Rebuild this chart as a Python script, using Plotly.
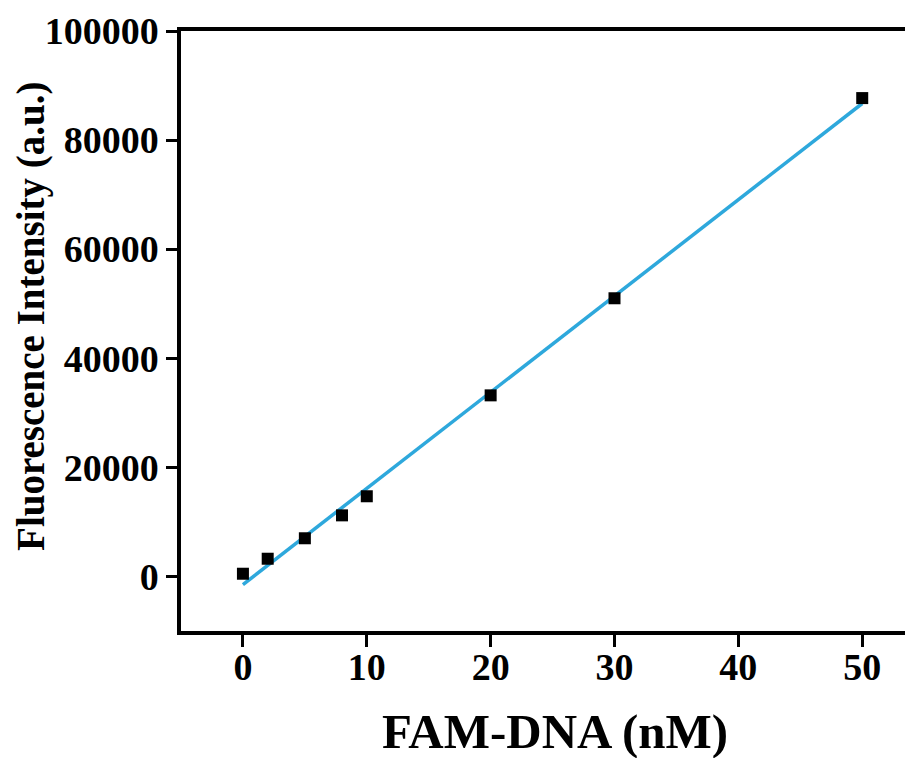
import numpy as np
import plotly.graph_objects as go

conc_nM = [0, 2, 5, 8, 10, 20, 30, 50]
intensity = [500, 3250, 7000, 11200, 14700, 33200, 51000, 87700]
x_ticks = [0, 10, 20, 30, 40, 50]
y_ticks = [0, 20000, 40000, 60000, 80000, 100000]
y_tick_text = [str(v) for v in y_ticks]
x_title = "FAM-DNA (nM)"
y_title = "Fluorescence Intensity (a.u.)"

slope, intercept = np.polyfit(conc_nM, intensity, 1)
fit_x = [min(conc_nM), max(conc_nM)]
fit_y = [slope * v + intercept for v in fit_x]

FONT = "Liberation Serif"

fig = go.Figure()
fig.add_trace(go.Scatter(x=fit_x, y=fit_y, mode="lines",
                         line=dict(color="#2ea8dc", width=3.5), showlegend=False))
fig.add_trace(go.Scatter(x=conc_nM, y=intensity, mode="markers",
                         marker=dict(symbol="square", size=12, color="black"),
                         showlegend=False))

fig.update_layout(
    width=905, height=750,
    margin=dict(l=173, r=0, t=23, b=127, autoexpand=False),
    plot_bgcolor="white", paper_bgcolor="white",
    font=dict(family=FONT, color="black"),
)
fig.update_xaxes(
    range=[-5, 54.1], tickvals=x_ticks, showgrid=False, zeroline=False,
    showline=True, linecolor="black", linewidth=3.5, mirror=True,
    ticks="outside", ticklen=12, tickwidth=3, tickcolor="black",
    tickfont=dict(family=FONT, size=38, weight="bold", color="black"),
    ticklabelstandoff=-12,
    automargin=False,
)
fig.update_yaxes(
    range=[-10000, 100000], tickvals=y_ticks, ticktext=y_tick_text,
    showgrid=False, zeroline=False,
    showline=True, linecolor="black", linewidth=3.5, mirror=False,
    ticks="outside", ticklen=11, tickwidth=3, tickcolor="black",
    tickfont=dict(family=FONT, size=38, weight="bold", color="black"),
    automargin=False,
)
fig.add_annotation(text=x_title, xref="paper", yref="paper", x=0.511, y=-0.167,
                   xanchor="center", yanchor="middle", showarrow=False,
                   font=dict(family=FONT, size=49, weight="bold", color="black"))
fig.add_annotation(text=y_title, xref="paper", yref="paper", x=-0.205, y=0.525,
                   xanchor="center", yanchor="middle", showarrow=False, textangle=-90,
                   font=dict(family=FONT, size=39, weight="bold", color="black"))

fig.write_html("out.html")
